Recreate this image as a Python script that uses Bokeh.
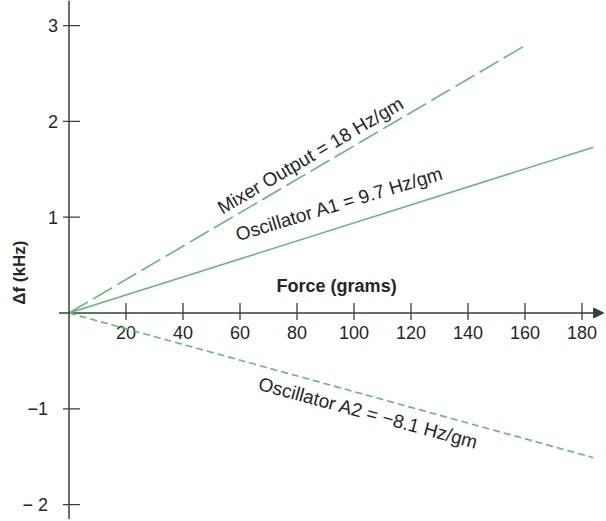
from bokeh.plotting import figure
from bokeh.models import Range1d, Span, Arrow, NormalHead
from bokeh.core.properties import value
from bokeh.embed import file_html
from bokeh.resources import INLINE
import math

# ---- data ----
force_mixer = [0, 160.5]
df_mixer = [0, 2.80]
force_a1 = [0, 184]
df_a1 = [0, 1.73]
force_a2 = [0, 184]
df_a2 = [0, -1.51]

x_ticks = [20, 40, 60, 80, 100, 120, 140, 160, 180]
x_tick_labels = ["20", "40", "60", "80", "100", "120", "140", "160", "180"]
y_ticks = [3, 2, 1, -1, -2]
y_tick_labels = ["3", "2", "1", "\u22121", "\u2212 2"]

label_mixer = "Mixer Output = 18 Hz/gm"
label_a1 = "Oscillator A1 = 9.7 Hz/gm"
label_a2 = "Oscillator A2 = \u22128.1 Hz/gm"
x_title = "Force (grams)"
y_title = "\u0394f (kHz)"

# ---- figure ----
W, H = 604, 519
XPX = 2.85   # px per gram
YPX = 95.8   # px per kHz
X0PX = 68.5  # frame px of x=0
Y0PX = 312.5 # frame px (from top) of y=0
x_start = -X0PX / XPX
x_end = (W - X0PX) / XPX
y_end = Y0PX / YPX
y_start = -(H - Y0PX) / YPX

p = figure(width=W, height=H, output_backend="svg", toolbar_location=None,
           x_range=Range1d(x_start, x_end), y_range=Range1d(y_start, y_end),
           min_border=0)
p.axis.visible = False
p.grid.visible = False
p.outline_line_color = None
p.background_fill_color = "white"
p.border_fill_color = "white"

FONT = value("Liberation Sans")
AXC = "#33423a"
TXT = "#262626"
GREEN = "#62b97c"

# y axis line
p.add_layout(Span(location=0, dimension="height", line_color=AXC, line_width=1.5))
# x axis line with arrow
p.segment(x0=[-3.5], y0=[0], x1=[x_end - 1], y1=[0], line_color=AXC, line_width=1.5)
p.add_layout(Arrow(x_start=x_end - 4, y_start=0, x_end=x_end - 0.3, y_end=0,
                   line_color=AXC, line_width=1.5,
                   end=NormalHead(size=10, fill_color=AXC, line_color=AXC)))

# x ticks
p.segment(x0=x_ticks, y0=[10 / YPX] * len(x_ticks), x1=x_ticks, y1=[-7 / YPX] * len(x_ticks),
          line_color=AXC, line_width=1.3)
p.text(x=x_ticks, y=[0] * len(x_ticks), text=x_tick_labels, text_align="center",
       text_baseline="top", y_offset=13, text_font=FONT, text_font_size="18px",
       text_color=TXT)
# y ticks
p.segment(x0=[-6 / XPX] * len(y_ticks), y0=y_ticks, x1=[11 / XPX] * len(y_ticks), y1=y_ticks,
          line_color=AXC, line_width=1.3)
y_off = [-10 if v < 0 else 0 for v in y_ticks]
p.text(x=[0] * len(y_ticks), y=y_ticks, text=y_tick_labels, text_align="right",
       text_baseline="middle", x_offset=[o - 11 for o in y_off], text_font=FONT,
       text_font_size="18px", text_color=TXT)

# lines
p.line(force_mixer, df_mixer, line_color=GREEN, line_width=1.6, line_dash="22 6")
p.line(force_a1, df_a1, line_color=GREEN, line_width=1.6)
p.line(force_a2, df_a2, line_color=GREEN, line_width=1.6, line_dash="7 4")

# line labels
LBL = "19px"
p.text(x=[84.7], y=[1.644], text=[label_mixer], angle=math.radians(30.5),
       text_align="center", text_baseline="middle", text_font=FONT,
       text_font_size=LBL, text_color=TXT)
p.text(x=[94.9], y=[1.14], text=[label_a1], angle=math.radians(16.8),
       text_align="center", text_baseline="middle", text_font=FONT,
       text_font_size=LBL, text_color=TXT)
p.text(x=[105.1], y=[-1.045], text=[label_a2], angle=math.radians(-15.2),
       text_align="center", text_baseline="middle", text_font=FONT,
       text_font_size=LBL, text_color=TXT)

# axis titles
p.text(x=[93.9], y=[0.277], text=[x_title], text_align="center", text_baseline="middle",
       text_font=FONT, text_font_size="18px", text_font_style="bold", text_color=TXT)
p.text(x=[-17.2], y=[0.42], text=[y_title], angle=math.pi / 2, text_align="center",
       text_baseline="middle", text_font=FONT, text_font_size="17px",
       text_font_style="bold", text_color=TXT)

open("out.html", "w").write(file_html(p, INLINE))
